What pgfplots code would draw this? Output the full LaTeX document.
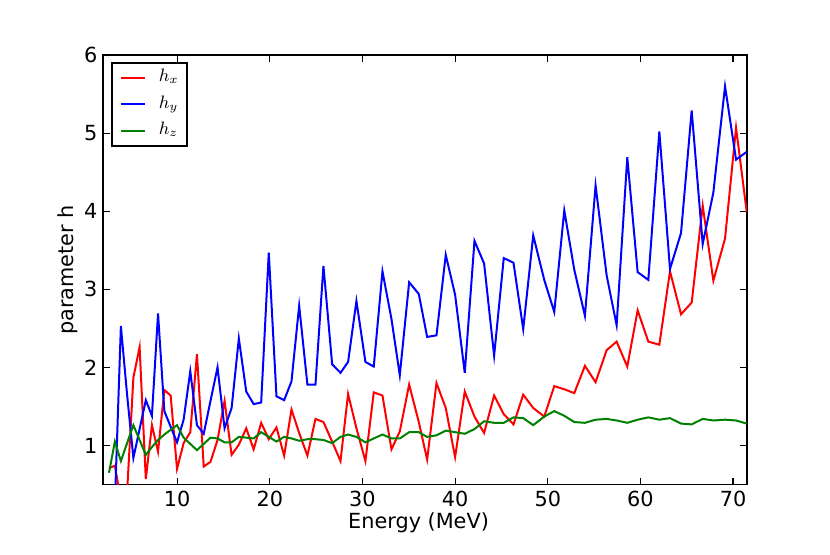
\documentclass[border=0pt]{standalone}
\usepackage{fontspec}
\setmainfont{DejaVu Sans}
\usepackage{pgfplots}
\pgfplotsset{compat=1.18}
\usepackage{pgfplotstable}
\definecolor{mplgreen}{rgb}{0,0.5,0}

\pgfplotstableread{
E hx hy hz
2.65 0.71 0.35 0.65
3.28 0.74 0.25 1.05
3.93 0.30 2.53 0.80
4.60 0.40 1.65 1.03
5.28 1.87 0.84 1.26
5.95 2.26 1.21 1.07
6.62 0.57 1.58 0.88
7.28 1.26 1.38 0.98
7.94 0.92 2.69 1.07
8.62 1.71 1.44 1.14
9.30 1.64 1.24 1.20
9.99 0.70 1.04 1.26
10.70 1.03 1.33 1.10
11.42 1.17 1.95 1.02
12.14 2.17 1.26 0.94
12.87 0.73 1.15 1.02
13.60 0.79 1.57 1.10
14.36 1.07 2.00 1.09
15.12 1.57 1.22 1.04
15.88 0.88 1.48 1.04
16.66 1.01 2.37 1.11
17.46 1.22 1.69 1.10
18.26 0.95 1.53 1.09
19.07 1.29 1.55 1.17
19.89 1.08 3.47 1.11
20.72 1.23 1.63 1.05
21.55 0.87 1.58 1.11
22.34 1.46 1.82 1.09
23.17 1.16 2.79 1.06
24.06 0.87 1.78 1.08
24.93 1.34 1.78 1.08
25.79 1.30 3.30 1.07
26.73 1.05 2.04 1.03
27.63 0.80 1.93 1.11
28.45 1.66 2.07 1.14
29.35 1.22 2.85 1.11
30.32 0.80 2.07 1.04
31.22 1.68 2.01 1.09
32.16 1.64 3.23 1.14
33.13 0.95 2.62 1.09
34.03 1.18 1.90 1.09
35.04 1.78 3.09 1.17
36.08 1.30 2.94 1.17
36.98 0.82 2.39 1.11
37.99 1.80 2.41 1.13
38.99 1.48 3.44 1.19
40.00 0.85 2.93 1.17
41.04 1.69 1.93 1.15
42.09 1.37 3.62 1.21
43.13 1.16 3.33 1.31
44.21 1.64 2.15 1.29
45.25 1.40 3.40 1.29
46.30 1.27 3.34 1.36
47.35 1.65 2.49 1.35
48.43 1.48 3.69 1.26
49.62 1.37 3.12 1.37
50.70 1.76 2.71 1.44
51.78 1.72 4.01 1.38
52.86 1.67 3.25 1.30
54.01 2.02 2.66 1.29
55.16 1.81 4.33 1.33
56.35 2.22 3.18 1.34
57.43 2.33 2.54 1.32
58.58 2.01 4.69 1.29
59.70 2.73 3.22 1.33
60.85 2.33 3.12 1.36
62.04 2.29 5.02 1.33
63.19 3.23 3.26 1.35
64.38 2.68 3.72 1.28
65.53 2.83 5.29 1.27
66.72 4.07 3.58 1.34
67.87 3.11 4.24 1.32
69.13 3.65 5.60 1.33
70.32 5.07 4.66 1.32
71.47 3.99 4.76 1.28
}\data

\begin{document}
\begin{tikzpicture}[x=1pt,y=1pt]
\useasboundingbox (0,0) rectangle (415,277);
\begin{axis}[
  at={(51.5pt,34.75pt)}, anchor=south west,
  scale only axis, width=322pt, height=214.75pt,
  xmin=2.0, xmax=71.5, ymin=0.5, ymax=6,
  xtick={10,20,30,40,50,60,70}, ytick={1,2,3,4,5,6},
  tick align=inside, major tick length=3.5pt,
  axis line style={line width=0.8pt},
  every tick/.style={black, line width=0.6pt},
  /pgf/number format/assume math mode=true,
  tick label style={font=\fontsize{10.4}{12}\selectfont},
  xticklabel style={inner sep=0pt, anchor=north, yshift=-3.25pt},
  yticklabel style={inner sep=0pt, anchor=east, xshift=-2.65pt},
  label style={font=\fontsize{10.4}{12}\selectfont},
  xlabel={Energy (MeV)},
  ylabel={parameter h},
  xlabel style={at={(axis description cs:0.49,-0.0896)}, anchor=center},
  ylabel style={at={(axis description cs:-0.055,0.5)}, anchor=center},
  legend style={at={(0,1)}, anchor=north west, xshift=4pt, yshift=-3.5pt,
    draw=black, line width=0.8pt, font=\fontsize{9}{10}\selectfont,
    inner xsep=4pt, inner ysep=3.5pt, row sep=5.25pt,
    nodes={inner sep=0pt, text height=6pt, text depth=2pt},
    /tikz/every odd column/.append style={column sep=6.5pt}},
  legend cell align=left,
  legend image code/.code={\draw[#1] (0pt,0pt) -- (12pt,0pt);},
]
\addplot[red, line width=1pt] table[x=E, y=hx] {\data};
\addlegendentry{$h_x$}
\addplot[blue, line width=1pt] table[x=E, y=hy] {\data};
\addlegendentry{$h_y$}
\addplot[mplgreen, line width=1pt] table[x=E, y=hz] {\data};
\addlegendentry{$h_z$}
\end{axis}
\end{tikzpicture}
\end{document}
